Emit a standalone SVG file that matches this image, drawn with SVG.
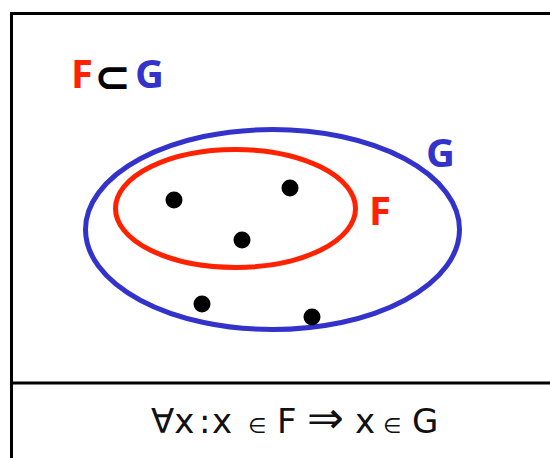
<svg xmlns="http://www.w3.org/2000/svg" width="550" height="458" viewBox="0 0 550 458">
<style>
.frame{fill:none;stroke:#000;stroke-width:3}
.set{fill:none;stroke-width:5}
.dot{fill:#000}
.lbl{font-family:"Open Sans","DejaVu Sans",sans-serif;font-weight:700;font-size:40px}
.formula{font-family:"DejaVu Sans",sans-serif;font-size:34px;fill:#111}
</style>
<rect width="550" height="458" fill="#fff"/>
<g id="frame">
<path class="frame" d="M11.5,470 V13.5 H560"/>
<line class="frame" x1="11.5" y1="383" x2="560" y2="383"/>
</g>
<g id="setG">
<ellipse class="set" cx="272.5" cy="229.5" rx="187" ry="100" stroke="#3333cc"/>
<text class="lbl" x="426" y="167" fill="#3333cc">G</text>
</g>
<g id="setF">
<ellipse class="set" cx="235.5" cy="208.5" rx="120" ry="59" stroke="#ff2200"/>
<text class="lbl" x="369" y="225" fill="#ff2200">F</text>
</g>
<g id="elements">
<circle class="dot" cx="174" cy="200" r="8.5"/>
<circle class="dot" cx="290" cy="188" r="8.5"/>
<circle class="dot" cx="242" cy="240" r="8.5"/>
<circle class="dot" cx="202" cy="304" r="8.5"/>
<circle class="dot" cx="312" cy="317" r="8.5"/>
</g>
<g id="title">
<text class="lbl" y="88"><tspan x="71" fill="#ff2200">F</tspan><tspan x="94" y="92" fill="#000" font-family="DejaVu Sans,sans-serif" font-weight="700" font-size="44">⊂</tspan><tspan x="135" y="88" fill="#3333cc">G</tspan></text>
</g>
<g id="formula">
<text class="formula" y="433"><tspan x="151">∀x</tspan><tspan x="199">:</tspan><tspan x="212">x</tspan><tspan x="248" font-size="21">∈</tspan><tspan x="277">F</tspan><tspan x="307" font-size="44">⇒</tspan><tspan x="355">x</tspan><tspan x="383" font-size="21">∈</tspan><tspan x="412">G</tspan></text>
</g>
</svg>
